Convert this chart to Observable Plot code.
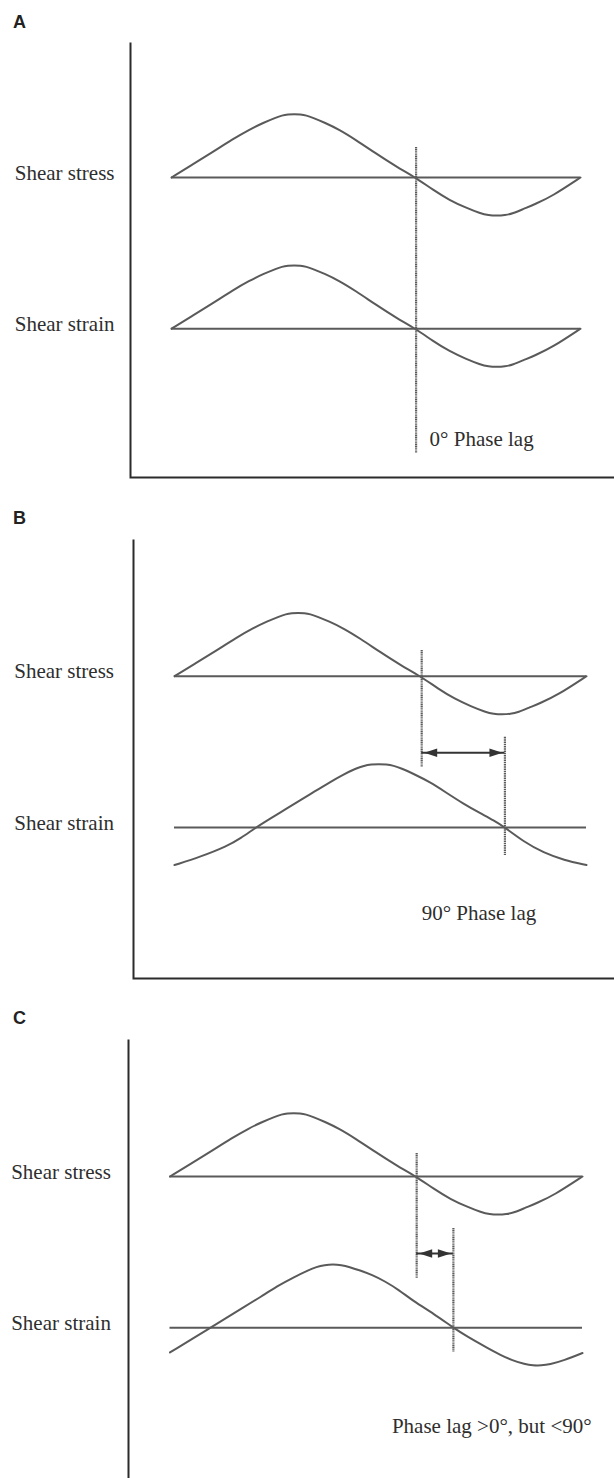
<!DOCTYPE html>
<html><head><meta charset="utf-8">
<script src="https://cdn.jsdelivr.net/npm/d3@7"></script>
<script src="https://cdn.jsdelivr.net/npm/@observablehq/plot@0.6"></script>
<style>
html,body{margin:0;padding:0;background:#fff;}
#page{position:relative;width:614px;height:1478px;overflow:hidden;background:#fff;}
.panel{position:absolute;left:0;}
.letter{position:absolute;left:13px;font:bold 18px "Liberation Sans",Arial,sans-serif;line-height:18px;color:#222;}
</style></head><body><div id="page"></div>
<script>
// ---------- data ----------
const panelLetters = ["A", "B", "C"];
const rowLabels = ["Shear stress", "Shear strain"];
const lagLabels = ["0° Phase lag", "90° Phase lag", "Phase lag >0°, but <90°"];

// time in % of the drawn window, amplitude relative to the stress peak
const stressTime = [0, 5, 10, 15, 19, 22.5, 25.5, 27, 28.5, 30, 31.5, 33, 34.5, 37.5, 41, 45, 50, 55, 59.7, 64, 68, 72, 75.5, 77.5, 79.5, 81.5, 83.5, 86, 89, 93, 100];
const stressAmp  = [0, 0.2, 0.4, 0.61, 0.76, 0.87, 0.95, 0.985, 1.0, 1.005, 1.0, 0.985, 0.95, 0.87, 0.76, 0.6, 0.38, 0.17, 0, -0.2, -0.36, -0.48, -0.57, -0.6, -0.607, -0.6, -0.57, -0.5, -0.42, -0.3, 0];

const strainTimeA = [0, 5, 10, 15, 19, 22.5, 25.5, 27, 28.5, 30, 31.5, 33, 34.5, 37.5, 41, 45, 50, 55, 59.7, 64, 68, 72, 75.5, 77.5, 79.5, 81.5, 83.5, 86, 89, 93, 100];
const strainAmpA  = [0, 0.2, 0.4, 0.61, 0.76, 0.87, 0.95, 0.985, 1.0, 1.005, 1.0, 0.985, 0.95, 0.87, 0.76, 0.6, 0.38, 0.17, 0, -0.2, -0.36, -0.48, -0.57, -0.6, -0.607, -0.6, -0.57, -0.5, -0.42, -0.3, 0];

const strainTimeB = [0, 6.3, 12.8, 16.0, 19.8, 23.3, 27, 30.6, 34, 37.5, 41, 44, 46, 47.8, 49.6, 51.4, 53.2, 55, 58, 62, 66, 70, 74.3, 77.5, 80.2, 84.8, 89.6, 94.5, 100];
const strainAmpB  = [-0.598, -0.467, -0.297, -0.175, 0, 0.143, 0.29, 0.433, 0.57, 0.71, 0.84, 0.935, 0.98, 1.0, 1.005, 1.0, 0.98, 0.94, 0.85, 0.72, 0.55, 0.38, 0.222, 0.11, 0, -0.229, -0.403, -0.519, -0.598];

const strainTimeC = [0, 9.8, 14, 18, 22, 26, 30, 33.5, 35.5, 37.5, 39.5, 41.5, 43.5, 46, 49, 52, 55.5, 59, 64, 68.7, 72, 76.9, 80, 83, 86, 88, 90, 92, 95.5, 100];
const strainAmpC  = [-0.392, 0, 0.17, 0.33, 0.49, 0.66, 0.8, 0.91, 0.965, 0.995, 1.005, 0.995, 0.965, 0.91, 0.84, 0.74, 0.6, 0.42, 0.22, 0, -0.14, -0.32, -0.43, -0.52, -0.58, -0.6, -0.6, -0.585, -0.52, -0.402];

// zero crossings marked by the dotted lines (time units)
const stressCrossing = [59.8, 60.0, 59.8];
const strainCrossing = [59.8, 80.2, 68.7];

// ---------- layout ----------
const STRAIN_OFFSET = -2.4;   // strain row sits below stress row (amplitude units)
const AMP_PX = 63;
const INK = "#5a5a5a", AXIS = "#2b2b2b", TXT = "#2e2e2e", DOT = "#5c5c5c";
const SERIF = "'Liberation Serif','Times New Roman',serif";

const strainTimes = [strainTimeA, strainTimeB, strainTimeC];
const strainAmps = [strainAmpA, strainAmpB, strainAmpC];

const layouts = [
  {top: 0,   height: 490, mt: 42, mb: 13, ml: 130, xr: [171, 580],   base: 177,   pad: 16,   bottom: true,
   dash1: [0.476, -4.38], text: {t: 63.1, y: -4.15}, letterTop: 13.3},
  {top: 490, height: 490, mt: 49, mb: 2,  ml: 133, xr: [174, 586],   base: 185.7, pad: 19.5, bottom: true,
   dash1: [0.408, -1.449], dash2: [-0.968, -2.846], arrowY: -1.216, text: {t: 60.0, y: -3.77}, letterTop: 508.8},
  {top: 980, height: 498, mt: 59, mb: 0,  ml: 128, xr: [169.5, 582], base: 196,   pad: 17.6, bottom: false,
   dash1: [0.365, -1.619], dash2: [-0.825, -2.794], arrowY: -1.222, text: {t: 53.8, y: -3.97}, letterTop: 1009.3}
];

const triangle = {
  draw(context, l, r) {
    context.moveTo(0, -l);
    context.lineTo(r, 0);
    context.lineTo(-r, 0);
    context.closePath();
  }
};

const page = document.getElementById("page");

layouts.forEach((L, i) => {
  const rows = [
    {row: rowLabels[0], off: 0, t: stressTime, a: stressAmp},
    {row: rowLabels[1], off: STRAIN_OFFSET, t: strainTimes[i], a: strainAmps[i]}
  ];
  const curve = rows.flatMap(r => r.t.map((t, k) => ({row: r.row, t, y: r.off + r.a[k]})));
  const baselines = rows.map(r => ({row: r.row, y: r.off, t1: r.t[0], t2: r.t[r.t.length - 1]}));

  const W = 614 - L.ml, H = L.height - L.mt - L.mb;
  const dash = L.bottom ? `0 ${W + H} ${W + H}` : `0 ${2 * W + H} ${H}`;

  const guides = [{t: stressCrossing[i], y1: L.dash1[0], y2: L.dash1[1]}];
  if (L.dash2) guides.push({t: strainCrossing[i], y1: L.dash2[0], y2: L.dash2[1]});

  const marks = [
    Plot.frame({stroke: AXIS, strokeWidth: 2, strokeDasharray: dash}),
    Plot.axisY({ticks: [0, STRAIN_OFFSET], tickFormat: d => d === 0 ? rowLabels[0] : rowLabels[1],
      tickSize: 0, tickPadding: L.pad, fontSize: 21, fontFamily: SERIF, fill: TXT, dy: -4.5, label: null}),
    Plot.ruleY(baselines, {y: "y", x1: "t1", x2: "t2", stroke: INK, strokeWidth: 2}),
    Plot.line(curve, {x: "t", y: "y", z: "row", curve: "basis", stroke: INK, strokeWidth: 2}),
    Plot.ruleX(guides, {x: "t", y1: "y1", y2: "y2", stroke: DOT, strokeWidth: 2.2, strokeDasharray: "1.2 0.6"}),
    Plot.text([lagLabels[i]], {x: () => L.text.t, y: () => L.text.y, text: d => d, textAnchor: "start",
      fontSize: 21, fontFamily: SERIF, fill: TXT})
  ];

  if (L.arrowY !== undefined) {
    const lag = [{x1: stressCrossing[i], x2: strainCrossing[i], y: L.arrowY}];
    marks.push(
      Plot.ruleY(lag, {y: "y", x1: "x1", x2: "x2", stroke: "#333", strokeWidth: 2}),
      Plot.vector(lag, {x: "x1", y: "y", rotate: -90, length: 13, r: 4.3, anchor: "end", shape: triangle,
        fill: "#333", stroke: "none", dx: 2.5}),
      Plot.vector(lag, {x: "x2", y: "y", rotate: 90, length: 13, r: 4.3, anchor: "end", shape: triangle,
        fill: "#333", stroke: "none", dx: -2.5})
    );
  }

  const chart = Plot.plot({
    width: 614, height: L.height,
    marginTop: L.mt, marginBottom: L.mb, marginLeft: L.ml, marginRight: 0,
    x: {domain: [0, 100], range: L.xr, axis: null},
    y: {domain: [0, 1], range: [L.base, L.base - AMP_PX]},
    style: {background: "transparent", overflow: "visible"},
    marks
  });
  chart.classList.add("panel");
  chart.style.top = L.top + "px";
  page.appendChild(chart);

  const letter = document.createElement("div");
  letter.className = "letter";
  letter.style.top = L.letterTop + "px";
  letter.textContent = panelLetters[i];
  page.appendChild(letter);
});
</script>
</body></html>
